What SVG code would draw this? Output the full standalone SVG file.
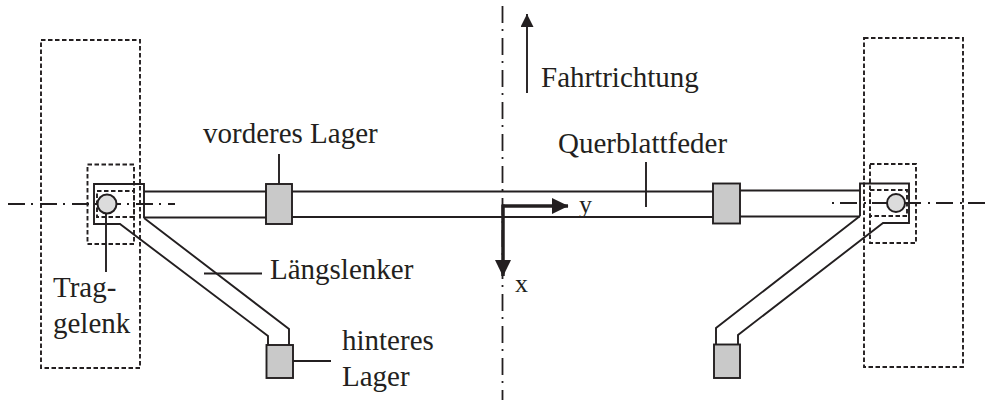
<svg xmlns="http://www.w3.org/2000/svg" width="986" height="401" viewBox="0 0 986 401">
<defs>
<style>
text{font-family:"Liberation Serif","Times New Roman",serif;font-size:29px;fill:#231f20}
.t{font-size:26px}
.s{fill:none;stroke:#231f20;stroke-width:1.900}
.l{fill:none;stroke:#231f20;stroke-width:1.900}
.d{fill:none;stroke:#231f20;stroke-width:1.900;stroke-dasharray:4.500 2.500}
.c{fill:none;stroke:#231f20;stroke-width:1.800;stroke-dasharray:17 6 2 7}
.b{fill:#c9c9c9;stroke:#231f20;stroke-width:1.900}
.j{fill:#dcdcdc;stroke:#231f20;stroke-width:2}
.a{fill:none;stroke:#231f20;stroke-width:3.500}
</style>
<marker id="big" markerUnits="userSpaceOnUse" markerWidth="17" markerHeight="17" refX="16" refY="8.500" orient="auto"><path d="M0,0.500L16.500,8.500L0,16.500z" fill="#231f20"/></marker>
<marker id="thin" markerUnits="userSpaceOnUse" markerWidth="14" markerHeight="14" refX="13" refY="6.500" orient="auto"><path d="M0,0L13,6.500L0,13z" fill="#231f20"/></marker>
</defs>
<g id="axes">
<path class="c" d="M502.500,6V400"/>
<path class="c" d="M8,204H175"/>
<path class="c" d="M985,203H830"/>
</g>
<g id="connectors">
<path class="s" d="M144,191.500H266M292,191.500H713M740,190.500H860"/>
<path class="s" d="M144,217.500H266M292,217H713M740,216.500H860"/>
<path class="l" d="M279,154V191"/>
<path class="l" d="M106,204V272"/>
<path class="l" d="M204,273.500H262"/>
<path class="l" d="M281,361H331"/>
<path class="l" d="M646,162V207"/>
<path class="l" d="M527,93V14" marker-end="url(#thin)"/>
<path class="a" d="M503,206H568" marker-end="url(#big)"/>
<path class="a" d="M503,204.500V276" marker-end="url(#big)"/>
</g>
<g id="left-wheel"><rect class="d" x="41" y="40" width="99" height="328"/></g>
<g id="left-joint">
<path class="s" d="M144,218V184H94V224H120L268,336V345M144,218L289,329V345"/>
<circle class="j" cx="107" cy="204" r="9.500"/>
<rect class="d" x="87.500" y="164.500" width="46.500" height="79.500"/>
<rect class="d" x="97" y="191" width="37" height="26"/>
</g>
<g id="front-left-bearing"><rect class="b" x="266" y="184" width="26" height="40"/></g>
<g id="rear-left-bearing"><rect class="b" x="266.500" y="345" width="26.500" height="33"/></g>
<g id="right-wheel"><rect class="d" x="864" y="38" width="99" height="329"/></g>
<g id="right-joint">
<path class="s" d="M860,216V183.500H909V223H883L738,335V344M860,216L716,328V344"/>
<circle class="j" cx="896" cy="203" r="9"/>
<rect class="d" x="870" y="164" width="46" height="79"/>
<rect class="d" x="870" y="190" width="37" height="26"/>
</g>
<g id="front-right-bearing"><rect class="b" x="713" y="183.500" width="27" height="40"/></g>
<g id="rear-right-bearing"><rect class="b" x="714" y="344.500" width="26" height="33.500"/></g>
<g id="labels">
<text x="541" y="87">Fahrtrichtung</text>
<text x="203" y="143">vorderes Lager</text>
<text x="558" y="153">Querblattfeder</text>
<text x="270" y="279">Längslenker</text>
<text x="53" y="297">Trag-</text>
<text x="53" y="333">gelenk</text>
<text x="342" y="350">hinteres</text>
<text x="342" y="386">Lager</text>
<text class="t" x="579" y="213">y</text>
<text class="t" x="515" y="292">x</text>
</g>
</svg>
